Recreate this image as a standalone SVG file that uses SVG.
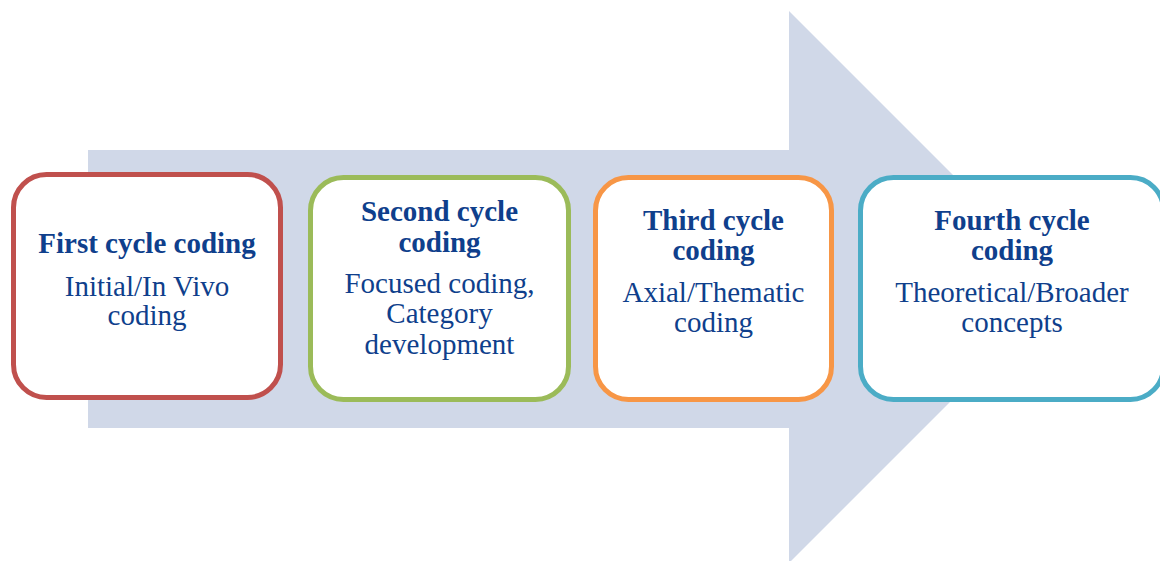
<svg xmlns="http://www.w3.org/2000/svg" width="1160" height="561" viewBox="0 0 1160 561">
  <style>
    .box { fill: #FFFFFF; stroke-width: 5; }
    .title { font-family: "Liberation Serif", "Times New Roman", serif; font-weight: bold; font-size: 29px; fill: #0F3F8C; text-anchor: middle; }
    .body { font-family: "Liberation Serif", "Times New Roman", serif; font-size: 29px; fill: #0F3F8C; text-anchor: middle; }
  </style>
  <rect x="0" y="0" width="1160" height="561" fill="#FFFFFF"/>

  <!-- Background process arrow -->
  <g id="connectors">
    <polygon points="88,150 789,150 789,11 1065,287 789,563 789,428 88,428" fill="#D0D8E8"/>
  </g>

  <g id="first-cycle">
    <rect class="box" x="13.5" y="174.5" width="267" height="223" rx="33" stroke="#C0504D"/>
    <text class="title" x="147" y="253">First cycle coding</text>
    <text class="body" x="147" y="296">Initial/In Vivo</text>
    <text class="body" x="147" y="325">coding</text>
  </g>

  <g id="second-cycle">
    <rect class="box" x="310.5" y="177.5" width="258" height="222" rx="33" stroke="#9BBB59"/>
    <text class="title" x="439.5" y="221">Second cycle</text>
    <text class="title" x="439.5" y="252">coding</text>
    <text class="body" x="439.5" y="293">Focused coding,</text>
    <text class="body" x="439.5" y="323">Category</text>
    <text class="body" x="439.5" y="354">development</text>
  </g>

  <g id="third-cycle">
    <rect class="box" x="595.5" y="177.5" width="236" height="222" rx="33" stroke="#F79646"/>
    <text class="title" x="713.5" y="230">Third cycle</text>
    <text class="title" x="713.5" y="260">coding</text>
    <text class="body" x="713.5" y="302">Axial/Thematic</text>
    <text class="body" x="713.5" y="332">coding</text>
  </g>

  <g id="fourth-cycle">
    <rect class="box" x="860.5" y="177.5" width="303" height="222" rx="33" stroke="#4BACC6"/>
    <text class="title" x="1012" y="230">Fourth cycle</text>
    <text class="title" x="1012" y="260">coding</text>
    <text class="body" x="1012" y="302">Theoretical/Broader</text>
    <text class="body" x="1012" y="332">concepts</text>
  </g>
</svg>
